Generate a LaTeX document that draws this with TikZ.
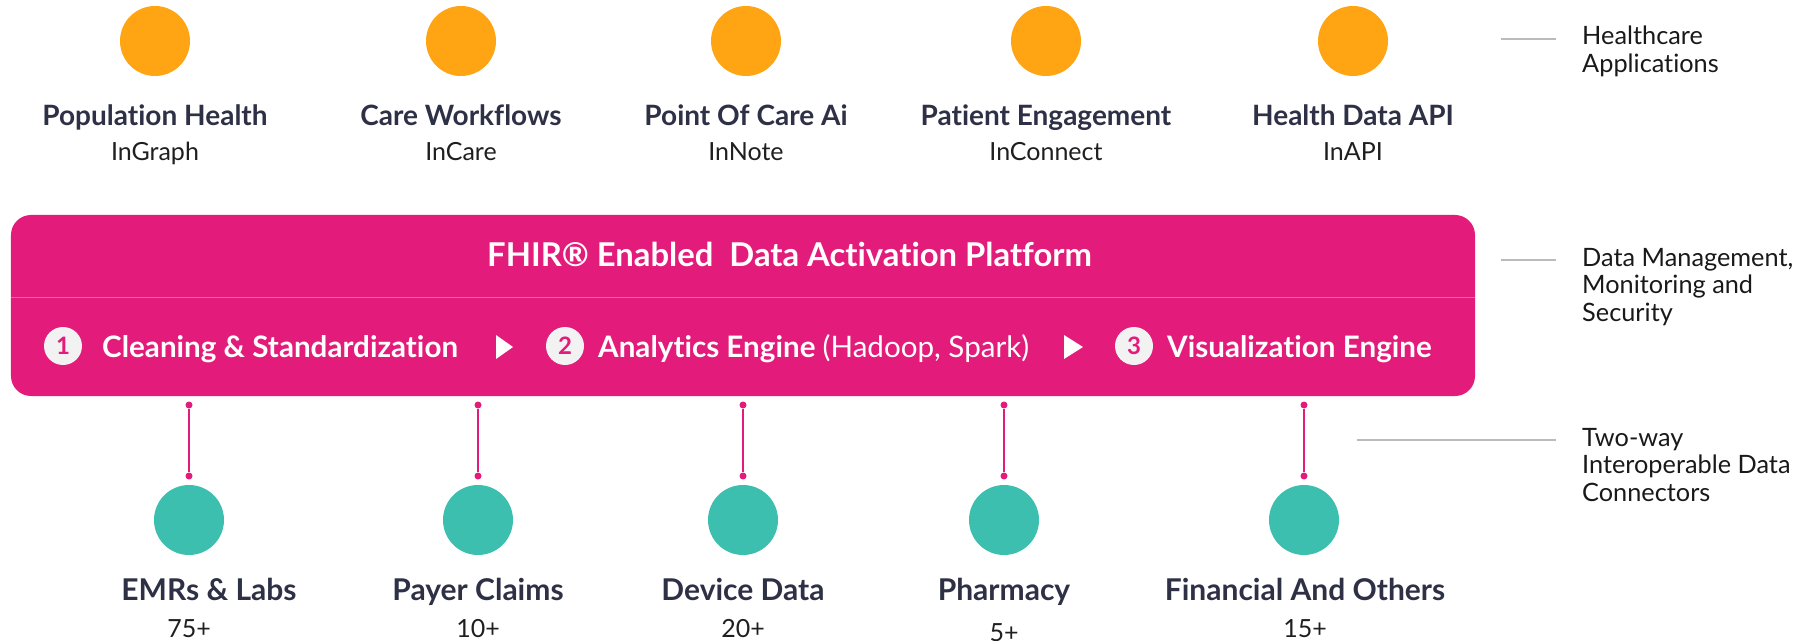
\documentclass[tikz,border=0pt]{standalone}
\usepackage{fontspec}
\setmainfont[Ligatures=NoCommon]{Lato}
\usetikzlibrary{positioning}
\definecolor{apporange}{HTML}{FFA412}
\definecolor{platpink}{HTML}{E31B7A}
\definecolor{platline}{HTML}{F2609F}
\definecolor{connteal}{HTML}{3CBFAE}
\definecolor{labnavy}{HTML}{2E3146}
\definecolor{sidegray}{HTML}{BBBBBB}
\tikzset{
  appdot/.style={circle, fill=apporange, minimum size=70bp, inner sep=0pt},
  conndot/.style={circle, fill=connteal, minimum size=70bp, inner sep=0pt},
  pin/.style={circle, fill=platpink, minimum size=7bp, inner sep=0pt},
  pinline/.style={platpink, line width=2bp},
  head/.style={anchor=base, inner sep=0pt, text=labnavy, font=\fontsize{28bp}{30bp}\selectfont\bfseries},
  srchead/.style={head, font=\fontsize{30bp}{32bp}\selectfont\bfseries},
  sub/.style={anchor=base, inner sep=0pt, text=black!88, font=\fontsize{25bp}{27bp}\selectfont},
  side/.style={anchor=base west, inner sep=0pt, align=left, text=black!90, font=\fontsize{25.3bp}{27.8bp}\selectfont},
  sideline/.style={sidegray, line width=1.5bp},
  stepnum/.style={circle, fill=black!5, text=platpink, minimum size=38bp, inner sep=0pt, font=\fontsize{24bp}{26bp}\selectfont\bfseries},
  steptxt/.style={anchor=base west, inner sep=0pt, text=white, font=\fontsize{29.6bp}{31bp}\selectfont\bfseries}
}
\begin{document}
\begin{tikzpicture}[x=1bp, y=-1bp]
  \useasboundingbox (0,0) rectangle (1808,641);
  % applications
  \node[appdot] (a1) at (155,41) {};
  \node[appdot] (a2) at (461,41) {};
  \node[appdot] (a3) at (746,41) {};
  \node[appdot] (a4) at (1046,41) {};
  \node[appdot] (a5) at (1353,41) {};
  \node[head] (a1h) at (155,126) {Population Health};
  \node[head] (a2h) at (461,126) {Care Workflows};
  \node[head] (a3h) at (746,126) {Point Of Care Ai};
  \node[head] (a4h) at (1046,126) {Patient Engagement};
  \node[head] (a5h) at (1353,126) {Health Data API};
  \node[sub] (a1s) at (155,161) {InGraph};
  \node[sub] (a2s) at (461,161) {InCare};
  \node[sub] (a3s) at (746,161) {InNote};
  \node[sub] (a4s) at (1046,161) {InConnect};
  \node[sub] (a5s) at (1353,161) {InAPI};
  % platform
  \node[fill=platpink, rounded corners=20bp, minimum width=1464bp, minimum height=181bp, inner sep=0pt] (plat) at (743,305.5) {};
  \draw[platline, line width=1.5bp] (plat.west |- 0,297.5) -- (plat.east |- 0,297.5);
  \node[anchor=base west, inner sep=0pt, text=white, font=\fontsize{32.8bp}{34bp}\selectfont\bfseries] (title) at (487,267) {FHIR® Enabled\ \ Data Activation Platform};
  \node[stepnum] (s1) at (63,346) {1};
  \node[steptxt] (t1) at (102,357) {Cleaning \& Standardization};
  \fill[white] (496,335) -- (513,347) -- (496,359) -- cycle;
  \node[stepnum] (s2) at (565,346) {2};
  \node[steptxt] (t2) at (598,357) {Analytics Engine {\mdseries (Hadoop, Spark)}};
  \fill[white] (1064,335) -- (1083,347) -- (1064,359) -- cycle;
  \node[stepnum] (s3) at (1134,346) {3};
  \node[steptxt] (t3) at (1167,357) {Visualization Engine};
  % connectors
  \node[pin] (p1a) at (189,405) {}; \node[pin] (p1b) at (189,476) {};
  \node[pin] (p2a) at (478,405) {}; \node[pin] (p2b) at (478,476) {};
  \node[pin] (p3a) at (743,405) {}; \node[pin] (p3b) at (743,476) {};
  \node[pin] (p4a) at (1004,405) {}; \node[pin] (p4b) at (1004,476) {};
  \node[pin] (p5a) at (1304,405) {}; \node[pin] (p5b) at (1304,476) {};
  \draw[pinline] (p1a) -- (p1b);
  \draw[pinline] (p2a) -- (p2b);
  \draw[pinline] (p3a) -- (p3b);
  \draw[pinline] (p4a) -- (p4b);
  \draw[pinline] (p5a) -- (p5b);
  \node[conndot] (c1) at (189,520) {};
  \node[conndot] (c2) at (478,520) {};
  \node[conndot] (c3) at (743,520) {};
  \node[conndot] (c4) at (1004,520) {};
  \node[conndot] (c5) at (1304,520) {};
  \node[srchead] (c1h) at (209,600) {EMRs \& Labs};
  \node[srchead] (c2h) at (478,600) {Payer Claims};
  \node[srchead] (c3h) at (743,600) {Device Data};
  \node[srchead] (c4h) at (1004,600) {Pharmacy};
  \node[srchead] (c5h) at (1305,600) {Financial And Others};
  \node[sub] (c1s) at (189,637) {75+};
  \node[sub] (c2s) at (478,637) {10+};
  \node[sub] (c3s) at (743,637) {20+};
  \node[sub] (c4s) at (1004,641.5) {5+};
  \node[sub] (c5s) at (1305,637) {15+};
  % side labels
  \node[side] (l1) at (1582,72.7) {Healthcare\\Applications};
  \node[side] (l2) at (1582,321.7) {Data Management,\\Monitoring and\\Security};
  \node[side] (l3) at (1582,501.7) {Two-way\\Interoperable Data\\Connectors};
  \coordinate (l1a) at (1501,39);
  \coordinate (l2a) at (1501,260);
  \coordinate (l3a) at (1357,440);
  \draw[sideline] (l1a) -- (l1a -| 1556,0);
  \draw[sideline] (l2a) -- (l2a -| 1556,0);
  \draw[sideline] (l3a) -- (l3a -| 1556,0);
\end{tikzpicture}
\end{document}
